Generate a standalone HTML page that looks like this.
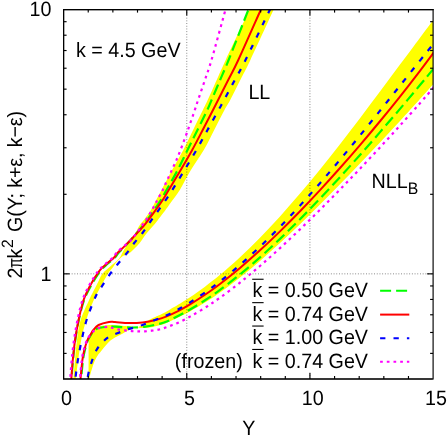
<!DOCTYPE html>
<html><head><meta charset="utf-8"><title>plot</title>
<style>
html,body{margin:0;padding:0;background:#fff;}
body{width:447px;height:435px;overflow:hidden;}
svg{display:block;will-change:transform;}
text{font-family:"Liberation Sans",sans-serif;font-size:19.7px;fill:#000;text-rendering:geometricPrecision;}
</style></head><body>
<svg width="447" height="435" viewBox="0 0 447 435">
<rect x="0" y="0" width="447" height="435" fill="#fff"/>
<defs><clipPath id="cp"><rect x="63.6" y="9.6" width="369.5" height="369.4"/></clipPath></defs>
<g clip-path="url(#cp)" fill="none" stroke-linecap="butt" stroke-linejoin="round">
<path d="M73.00,390.00 C73.08,388.00 73.17,383.00 73.50,378.00 C73.83,373.00 74.42,366.33 75.00,360.00 C75.58,353.67 76.07,346.67 77.00,340.00 C77.93,333.33 78.58,326.67 80.60,320.00 C82.62,313.33 87.03,304.67 89.10,300.00 C91.17,295.33 91.67,294.67 93.00,292.00 C94.33,289.33 95.55,287.02 97.10,284.00 C98.65,280.98 100.15,276.78 102.30,273.90 C104.45,271.02 107.98,268.52 110.00,266.70 C112.02,264.88 113.03,264.22 114.40,263.00 C115.77,261.78 117.18,260.48 118.20,259.40 C119.22,258.32 119.78,257.65 120.50,256.50 C121.22,255.35 121.28,254.70 122.50,252.50 C123.72,250.30 126.25,245.75 127.80,243.30 C129.35,240.85 130.52,239.52 131.80,237.80 C133.08,236.08 134.58,234.40 135.50,233.00 C136.42,231.60 136.50,230.87 137.30,229.40 C138.10,227.93 139.25,225.72 140.30,224.20 C141.35,222.68 141.83,222.67 143.60,220.30 C145.37,217.93 148.80,213.38 150.90,210.00 C153.00,206.62 154.43,203.33 156.20,200.00 C157.97,196.67 158.85,195.00 161.50,190.00 C164.15,185.00 168.47,176.67 172.10,170.00 C175.73,163.33 179.80,156.67 183.30,150.00 C186.80,143.33 189.83,136.67 193.10,130.00 C196.37,123.33 200.47,115.00 202.90,110.00 C205.33,105.00 205.40,105.00 207.70,100.00 C210.00,95.00 213.70,86.67 216.70,80.00 C219.70,73.33 220.22,71.75 225.70,60.00 C231.18,48.25 244.88,19.50 249.60,9.50 C254.32,-0.50 253.27,1.58 254.00,0.00 L278.00,0.00 C277.28,1.58 278.30,-0.50 273.70,9.50 C269.10,19.50 255.97,48.25 250.40,60.00 C244.83,71.75 243.67,73.33 240.30,80.00 C236.93,86.67 232.83,95.00 230.20,100.00 C227.57,105.00 227.17,105.00 224.50,110.00 C221.83,115.00 217.65,123.33 214.20,130.00 C210.75,136.67 207.83,143.08 203.80,150.00 C199.77,156.92 194.00,164.83 190.00,171.50 C186.00,178.17 183.05,184.75 179.80,190.00 C176.55,195.25 172.88,199.67 170.50,203.00 C168.12,206.33 168.08,206.55 165.50,210.00 C162.92,213.45 158.10,219.87 155.00,223.70 C151.90,227.53 149.48,229.73 146.90,233.00 C144.32,236.27 141.65,240.63 139.50,243.30 C137.35,245.97 135.65,247.38 134.00,249.00 C132.35,250.62 130.93,252.00 129.60,253.00 C128.27,254.00 127.18,254.45 126.00,255.00 C124.82,255.55 123.67,255.57 122.50,256.30 C121.33,257.03 120.10,258.28 119.00,259.40 C117.90,260.52 116.85,261.78 115.90,263.00 C114.95,264.22 114.65,264.88 113.30,266.70 C111.95,268.52 109.65,271.02 107.80,273.90 C105.95,276.78 104.53,279.65 102.20,284.00 C99.87,288.35 96.47,294.00 93.80,300.00 C91.13,306.00 88.30,313.33 86.20,320.00 C84.10,326.67 82.53,333.33 81.20,340.00 C79.87,346.67 79.07,353.67 78.20,360.00 C77.33,366.33 76.45,373.00 76.00,378.00 C75.55,383.00 75.58,388.00 75.50,390.00 Z" fill="#ffff00" stroke="none"/>
<path d="M88.40,390.00 C88.42,388.00 88.47,383.00 88.50,378.00 C88.53,373.00 88.57,365.67 88.60,360.00 C88.63,354.33 88.42,348.00 88.70,344.00 C88.98,340.00 89.52,338.25 90.30,336.00 C91.08,333.75 92.02,332.08 93.40,330.50 C94.78,328.92 96.02,327.42 98.60,326.50 C101.18,325.58 106.17,325.22 108.90,325.00 C111.63,324.78 111.68,324.98 115.00,325.20 C118.32,325.42 126.05,325.93 128.80,326.30 C131.55,326.67 129.97,327.23 131.50,327.40 C133.03,327.57 135.00,328.58 138.00,327.30 C141.00,326.02 145.28,322.05 149.50,319.70 C153.72,317.35 159.88,314.92 163.30,313.20 C166.72,311.48 167.55,310.81 170.00,309.40 C172.45,307.99 174.67,306.76 178.00,304.74 C181.33,302.72 185.50,300.26 190.00,297.25 C194.50,294.24 200.00,290.41 205.00,286.68 C210.00,282.95 214.17,279.77 220.00,274.86 C225.83,269.95 233.33,263.44 240.00,257.24 C246.67,251.05 253.33,244.50 260.00,237.69 C266.67,230.88 273.33,223.74 280.00,216.39 C286.67,209.04 293.33,201.40 300.00,193.57 C306.67,185.74 313.33,177.66 320.00,169.43 C326.67,161.20 333.33,152.75 340.00,144.21 C346.67,135.67 353.33,126.94 360.00,118.16 C366.67,109.38 373.33,100.45 380.00,91.53 C386.67,82.61 393.33,73.59 400.00,64.61 C406.67,55.63 414.50,45.05 420.00,37.66 C425.50,30.27 429.50,24.94 433.00,20.28 C436.50,15.62 439.67,11.45 441.00,9.68 L441.00,75.50 C439.67,77.00 436.50,80.61 433.00,84.53 C429.50,88.45 425.50,92.95 420.00,99.02 C414.50,105.09 406.67,113.69 400.00,120.93 C393.33,128.17 386.67,135.34 380.00,142.45 C373.33,149.56 366.67,156.61 360.00,163.59 C353.33,170.57 346.67,177.49 340.00,184.32 C333.33,191.15 326.67,197.91 320.00,204.55 C313.33,211.19 306.67,217.77 300.00,224.18 C293.33,230.59 286.67,236.92 280.00,243.04 C273.33,249.16 266.67,255.15 260.00,260.90 C253.33,266.64 246.67,272.23 240.00,277.51 C233.33,282.79 225.83,288.38 220.00,292.56 C214.17,296.74 210.00,299.47 205.00,302.61 C200.00,305.75 194.50,308.96 190.00,311.43 C185.50,313.90 181.33,315.81 178.00,317.46 C174.67,319.10 172.45,320.16 170.00,321.30 C167.55,322.44 166.72,323.25 163.30,324.30 C159.88,325.35 153.22,326.97 149.50,327.60 C145.78,328.23 142.92,328.12 141.00,328.10 C139.08,328.08 139.58,327.58 138.00,327.50 C136.42,327.42 133.03,327.22 131.50,327.60 C129.97,327.98 130.40,328.72 128.80,329.80 C127.20,330.88 124.20,332.80 121.90,334.10 C119.60,335.40 117.17,336.28 115.00,337.60 C112.83,338.92 111.07,339.93 108.90,342.00 C106.73,344.07 104.30,347.00 102.00,350.00 C99.70,353.00 97.18,355.33 95.10,360.00 C93.02,364.67 90.60,373.00 89.50,378.00 C88.40,383.00 88.67,388.00 88.50,390.00 Z" fill="#ffff00" stroke="none"/>
</g>
<g stroke="#000" stroke-opacity="0.6" stroke-width="0.85" stroke-dasharray="0.9,1.8" fill="none">
<line x1="186.77" y1="9.6" x2="186.77" y2="379.0"/>
<line x1="309.93" y1="9.6" x2="309.93" y2="277.5"/>
<line x1="309.93" y1="372.5" x2="309.93" y2="379.0"/>
<line x1="63.6" y1="273.85" x2="433.1" y2="273.85"/>
</g>
<g clip-path="url(#cp)" fill="none" stroke-linecap="butt" stroke-linejoin="round">
<path d="M70.80,390.00 C70.93,388.00 71.23,383.00 71.60,378.00 C71.97,373.00 72.38,366.33 73.00,360.00 C73.62,353.67 74.33,346.67 75.30,340.00 C76.27,333.33 77.33,326.67 78.80,320.00 C80.27,313.33 81.98,305.87 84.10,300.00 C86.22,294.13 88.80,289.67 91.50,284.80 C94.20,279.93 97.62,274.30 100.30,270.80 C102.98,267.30 105.15,266.02 107.60,263.80 C110.05,261.58 113.20,259.32 115.00,257.50 C116.80,255.68 116.92,254.58 118.40,252.90 C119.88,251.22 121.85,249.55 123.90,247.40 C125.95,245.25 128.42,242.58 130.70,240.00 C132.98,237.42 135.32,234.60 137.60,231.90 C139.88,229.20 141.83,227.17 144.40,223.80 C146.97,220.43 150.27,215.67 153.00,211.70 C155.73,207.73 158.55,203.62 160.80,200.00 C163.05,196.38 163.68,195.00 166.50,190.00 C169.32,185.00 174.20,176.67 177.70,170.00 C181.20,163.33 184.20,156.67 187.50,150.00 C190.80,143.33 194.20,136.67 197.50,130.00 C200.80,123.33 204.95,115.00 207.30,110.00 C209.65,105.00 209.47,105.00 211.60,100.00 C213.73,95.00 217.27,86.67 220.10,80.00 C222.93,73.33 223.87,71.75 228.60,60.00 C233.33,48.25 244.57,19.50 248.50,9.50 C252.43,-0.50 251.58,1.58 252.20,0.00" stroke="#00ff00" stroke-width="2.2" stroke-dasharray="11,5" stroke-dashoffset="0"/>
<path d="M80.20,390.00 C80.37,388.00 80.73,383.00 81.20,378.00 C81.67,373.00 82.38,364.67 83.00,360.00 C83.62,355.33 84.07,353.33 84.90,350.00 C85.73,346.67 87.05,342.42 88.00,340.00 C88.95,337.58 89.77,336.83 90.60,335.50 C91.43,334.17 92.10,333.03 93.00,332.00 C93.90,330.97 94.83,330.00 96.00,329.30 C97.17,328.60 98.00,328.25 100.00,327.80 C102.00,327.35 105.50,326.80 108.00,326.60 C110.50,326.40 112.45,326.50 115.00,326.60 C117.55,326.70 120.32,327.05 123.30,327.20 C126.28,327.35 129.23,327.60 132.90,327.50 C136.57,327.40 140.70,327.25 145.30,326.60 C149.90,325.95 156.72,324.53 160.50,323.60 C164.28,322.67 165.08,322.27 168.00,321.00 C170.92,319.73 174.33,317.91 178.00,316.00 C181.67,314.09 185.50,312.14 190.00,309.52 C194.50,306.90 200.00,303.55 205.00,300.28 C210.00,297.00 214.17,294.19 220.00,289.87 C225.83,285.56 233.33,279.82 240.00,274.39 C246.67,268.96 253.33,263.23 260.00,257.30 C266.67,251.38 273.33,245.19 280.00,238.84 C286.67,232.49 293.33,225.91 300.00,219.20 C306.67,212.49 313.33,205.58 320.00,198.57 C326.67,191.56 333.33,184.38 340.00,177.11 C346.67,169.84 353.33,162.42 360.00,154.93 C366.67,147.44 373.33,139.83 380.00,132.15 C386.67,124.47 393.33,116.69 400.00,108.85 C406.67,101.00 414.50,91.66 420.00,85.08 C425.50,78.50 429.50,73.63 433.00,69.39 C436.50,65.15 439.67,61.27 441.00,59.65" stroke="#00ff00" stroke-width="2.2" stroke-dasharray="11,5" stroke-dashoffset="0"/>
<path d="M70.60,390.00 C70.73,388.00 71.03,383.00 71.40,378.00 C71.77,373.00 72.18,366.33 72.80,360.00 C73.42,353.67 74.13,346.67 75.10,340.00 C76.07,333.33 77.18,326.67 78.60,320.00 C80.02,313.33 81.60,305.87 83.60,300.00 C85.60,294.13 87.97,289.67 90.60,284.80 C93.23,279.93 96.72,274.30 99.40,270.80 C102.08,267.30 104.25,266.02 106.70,263.80 C109.15,261.58 112.30,259.32 114.10,257.50 C115.90,255.68 115.95,254.58 117.50,252.90 C119.05,251.22 121.20,249.55 123.40,247.40 C125.60,245.25 128.25,242.58 130.70,240.00 C133.15,237.42 135.65,234.60 138.10,231.90 C140.55,229.20 142.67,227.17 145.40,223.80 C148.13,220.43 151.62,215.67 154.50,211.70 C157.38,207.73 160.33,203.62 162.70,200.00 C165.07,196.38 165.70,195.00 168.70,190.00 C171.70,185.00 176.78,176.67 180.70,170.00 C184.62,163.33 188.53,156.67 192.20,150.00 C195.87,143.33 199.23,136.67 202.70,130.00 C206.17,123.33 210.43,115.00 213.00,110.00 C215.57,105.00 215.57,105.00 218.10,100.00 C220.63,95.00 224.83,86.67 228.20,80.00 C231.57,73.33 232.85,71.75 238.30,60.00 C243.75,48.25 256.42,19.50 260.90,9.50 C265.38,-0.50 264.48,1.58 265.20,0.00" stroke="#ff0000" stroke-width="2"/>
<path d="M79.60,390.00 C79.77,388.00 80.13,383.00 80.60,378.00 C81.07,373.00 81.78,364.67 82.40,360.00 C83.02,355.33 83.45,353.33 84.30,350.00 C85.15,346.67 86.50,342.50 87.50,340.00 C88.50,337.50 89.32,336.67 90.30,335.00 C91.28,333.33 92.02,331.67 93.40,330.00 C94.78,328.33 96.02,326.35 98.60,325.00 C101.18,323.65 106.17,322.40 108.90,321.90 C111.63,321.40 111.68,321.80 115.00,322.00 C118.32,322.20 124.20,323.03 128.80,323.10 C133.40,323.17 138.00,322.97 142.60,322.40 C147.20,321.83 152.50,320.67 156.40,319.70 C160.30,318.73 162.40,318.04 166.00,316.60 C169.60,315.16 174.00,313.11 178.00,311.06 C182.00,309.01 185.50,307.05 190.00,304.33 C194.50,301.61 200.00,298.13 205.00,294.73 C210.00,291.33 214.17,288.40 220.00,283.93 C225.83,279.46 233.33,273.53 240.00,267.93 C246.67,262.33 253.33,256.42 260.00,250.33 C266.67,244.24 273.33,237.88 280.00,231.37 C286.67,224.86 293.33,218.13 300.00,211.25 C306.67,204.37 313.33,197.31 320.00,190.11 C326.67,182.91 333.33,175.53 340.00,168.03 C346.67,160.53 353.33,152.88 360.00,145.08 C366.67,137.29 373.33,129.35 380.00,121.26 C386.67,113.17 393.33,104.94 400.00,96.53 C406.67,88.12 414.50,77.97 420.00,70.79 C425.50,63.61 429.50,58.18 433.00,53.47 C436.50,48.76 439.67,44.37 441.00,42.55" stroke="#ff0000" stroke-width="2"/>
<path d="M74.90,390.00 C75.00,388.00 75.00,383.00 75.50,378.00 C76.00,373.00 76.87,366.33 77.90,360.00 C78.93,353.67 80.25,346.67 81.70,340.00 C83.15,333.33 84.33,327.13 86.60,320.00 C88.87,312.87 92.82,302.72 95.30,297.20 C97.78,291.68 99.20,290.53 101.50,286.90 C103.80,283.27 106.45,279.13 109.10,275.40 C111.75,271.67 114.53,268.10 117.40,264.50 C120.27,260.90 123.53,257.33 126.30,253.80 C129.07,250.27 131.30,246.77 134.00,243.30 C136.70,239.83 139.82,236.55 142.50,233.00 C145.18,229.45 147.53,225.65 150.10,222.00 C152.67,218.35 155.25,214.83 157.90,211.10 C160.55,207.37 163.60,203.12 166.00,199.60 C168.40,196.08 169.22,194.93 172.30,190.00 C175.38,185.07 180.48,176.67 184.50,170.00 C188.52,163.33 192.57,156.67 196.40,150.00 C200.23,143.33 203.82,136.67 207.50,130.00 C211.18,123.33 215.73,115.00 218.50,110.00 C221.27,105.00 221.38,105.00 224.10,100.00 C226.82,95.00 231.23,86.67 234.80,80.00 C238.37,73.33 239.63,71.75 245.50,60.00 C251.37,48.25 265.15,19.50 270.00,9.50 C274.85,-0.50 273.83,1.58 274.60,0.00" stroke="#0000ff" stroke-width="2.2" stroke-dasharray="5.3,8.1" stroke-dashoffset="0"/>
<path d="M85.50,390.00 C85.83,388.00 86.65,382.17 87.50,378.00 C88.35,373.83 89.10,369.67 90.60,365.00 C92.10,360.33 94.13,354.17 96.50,350.00 C98.87,345.83 102.27,342.47 104.80,340.00 C107.33,337.53 110.00,336.18 111.70,335.20 C113.40,334.22 112.27,335.08 115.00,334.10 C117.73,333.12 123.62,330.78 128.10,329.30 C132.58,327.82 137.53,326.70 141.90,325.20 C146.27,323.70 150.17,321.95 154.30,320.30 C158.43,318.65 162.75,317.11 166.70,315.30 C170.65,313.49 174.12,311.58 178.00,309.42 C181.88,307.26 185.50,305.17 190.00,302.34 C194.50,299.50 200.00,295.91 205.00,292.41 C210.00,288.91 214.17,285.93 220.00,281.34 C225.83,276.75 233.33,270.67 240.00,264.89 C246.67,259.11 253.33,253.01 260.00,246.67 C266.67,240.33 273.33,233.69 280.00,226.85 C286.67,220.01 293.33,212.90 300.00,205.62 C306.67,198.34 313.33,190.82 320.00,183.17 C326.67,175.52 333.33,167.66 340.00,159.71 C346.67,151.76 353.33,143.65 360.00,135.48 C366.67,127.31 373.33,119.00 380.00,110.70 C386.67,102.40 393.33,94.01 400.00,85.65 C406.67,77.30 414.50,67.45 420.00,60.57 C425.50,53.70 429.50,48.74 433.00,44.40 C436.50,40.06 439.67,36.18 441.00,34.54" stroke="#0000ff" stroke-width="2.2" stroke-dasharray="5.3,8.1" stroke-dashoffset="0"/>
<path d="M69.50,390.00 C69.63,388.00 69.93,383.00 70.30,378.00 C70.67,373.00 71.08,366.33 71.70,360.00 C72.32,353.67 73.03,346.67 74.00,340.00 C74.97,333.33 76.08,326.67 77.50,320.00 C78.92,313.33 80.50,305.87 82.50,300.00 C84.50,294.13 86.87,289.67 89.50,284.80 C92.13,279.93 95.62,274.30 98.30,270.80 C100.98,267.30 103.15,266.02 105.60,263.80 C108.05,261.58 111.20,259.32 113.00,257.50 C114.80,255.68 114.85,254.58 116.40,252.90 C117.95,251.22 120.07,249.28 122.30,247.40 C124.53,245.52 127.88,243.40 129.80,241.60 C131.72,239.80 132.47,238.27 133.80,236.60 C135.13,234.93 136.47,233.40 137.80,231.60 C139.13,229.80 140.45,227.72 141.80,225.80 C143.15,223.88 144.65,221.98 145.90,220.10 C147.15,218.22 148.15,216.42 149.30,214.50 C150.45,212.58 151.70,210.55 152.80,208.60 C153.90,206.65 154.85,204.78 155.90,202.80 C156.95,200.82 158.02,198.70 159.10,196.70 C160.18,194.70 161.40,192.80 162.40,190.80 C163.40,188.80 164.18,186.73 165.10,184.70 C166.02,182.67 166.95,180.65 167.90,178.60 C168.85,176.55 169.85,174.45 170.80,172.40 C171.75,170.35 172.70,168.27 173.60,166.30 C174.50,164.33 175.05,163.32 176.20,160.60 C177.35,157.88 178.55,155.10 180.50,150.00 C182.45,144.90 185.52,136.67 187.90,130.00 C190.28,123.33 193.10,115.00 194.80,110.00 C196.50,105.00 196.42,105.00 198.10,100.00 C199.78,95.00 202.67,86.67 204.90,80.00 C207.13,73.33 208.07,71.75 211.50,60.00 C214.93,48.25 222.75,19.50 225.50,9.50 C228.25,-0.50 227.58,1.58 228.00,0.00" stroke="#ff00ff" stroke-width="2.2" stroke-dasharray="2.7,4" stroke-dashoffset="0"/>
<path d="M79.00,390.00 C79.17,388.00 79.53,383.00 80.00,378.00 C80.47,373.00 81.18,364.67 81.80,360.00 C82.42,355.33 82.83,353.33 83.70,350.00 C84.57,346.67 85.95,342.45 87.00,340.00 C88.05,337.55 89.00,336.67 90.00,335.30 C91.00,333.93 92.00,332.80 93.00,331.80 C94.00,330.80 94.83,329.97 96.00,329.30 C97.17,328.63 98.00,328.22 100.00,327.80 C102.00,327.38 106.00,326.80 108.00,326.80 C110.00,326.80 110.37,327.38 112.00,327.80 C113.63,328.22 115.68,328.88 117.80,329.30 C119.92,329.72 122.40,330.00 124.70,330.30 C127.00,330.60 129.42,330.92 131.60,331.10 C133.78,331.28 135.62,331.35 137.80,331.40 C139.98,331.45 142.40,331.52 144.70,331.40 C147.00,331.28 149.32,330.98 151.60,330.70 C153.88,330.42 156.22,330.17 158.40,329.70 C160.58,329.23 162.62,328.58 164.70,327.90 C166.78,327.22 168.68,326.46 170.90,325.60 C173.12,324.75 174.82,324.26 178.00,322.77 C181.18,321.28 185.50,319.16 190.00,316.66 C194.50,314.16 200.00,310.94 205.00,307.77 C210.00,304.60 214.17,301.87 220.00,297.67 C225.83,293.47 233.33,287.87 240.00,282.59 C246.67,277.31 253.33,271.73 260.00,265.99 C266.67,260.25 273.33,254.26 280.00,248.15 C286.67,242.04 293.33,235.74 300.00,229.34 C306.67,222.94 313.33,216.38 320.00,209.74 C326.67,203.10 333.33,196.33 340.00,189.49 C346.67,182.65 353.33,175.71 360.00,168.69 C366.67,161.67 373.33,154.57 380.00,147.38 C386.67,140.19 393.33,132.93 400.00,125.56 C406.67,118.19 414.50,109.39 420.00,103.17 C425.50,96.95 429.50,92.29 433.00,88.25 C436.50,84.21 439.67,80.47 441.00,78.92" stroke="#ff00ff" stroke-width="2.2" stroke-dasharray="2.7,4" stroke-dashoffset="0"/>
</g>
<g fill="none">
<line x1="380.1" y1="290.8" x2="409.3" y2="290.8" stroke="#00ff00" stroke-width="2" stroke-dasharray="11,5"/>
<line x1="380.1" y1="314.6" x2="409.3" y2="314.6" stroke="#ff0000" stroke-width="2"/>
<line x1="380.1" y1="338.2" x2="409.3" y2="338.2" stroke="#0000ff" stroke-width="2" stroke-dasharray="5.3,8.1"/>
<line x1="380.1" y1="361.8" x2="409.3" y2="361.8" stroke="#ff00ff" stroke-width="2" stroke-dasharray="2.7,4"/>
</g>
<g stroke="#000" stroke-width="1.15" fill="none">
<rect x="63.6" y="9.6" width="369.5" height="369.4"/>
<path d="M63.6,379.0 L63.6,9.6 L433.1,9.6 M63.6,379.0 L432.1,379.0" stroke-linecap="square"/>
<line x1="88.23" y1="379.0" x2="88.23" y2="376.0"/>
<line x1="88.23" y1="9.6" x2="88.23" y2="12.6"/>
<line x1="112.87" y1="379.0" x2="112.87" y2="376.0"/>
<line x1="112.87" y1="9.6" x2="112.87" y2="12.6"/>
<line x1="137.50" y1="379.0" x2="137.50" y2="376.0"/>
<line x1="137.50" y1="9.6" x2="137.50" y2="12.6"/>
<line x1="162.13" y1="379.0" x2="162.13" y2="376.0"/>
<line x1="162.13" y1="9.6" x2="162.13" y2="12.6"/>
<line x1="186.77" y1="379.0" x2="186.77" y2="373.0"/>
<line x1="186.77" y1="9.6" x2="186.77" y2="15.6"/>
<line x1="211.40" y1="379.0" x2="211.40" y2="376.0"/>
<line x1="211.40" y1="9.6" x2="211.40" y2="12.6"/>
<line x1="236.03" y1="379.0" x2="236.03" y2="376.0"/>
<line x1="236.03" y1="9.6" x2="236.03" y2="12.6"/>
<line x1="260.67" y1="379.0" x2="260.67" y2="376.0"/>
<line x1="260.67" y1="9.6" x2="260.67" y2="12.6"/>
<line x1="285.30" y1="379.0" x2="285.30" y2="376.0"/>
<line x1="285.30" y1="9.6" x2="285.30" y2="12.6"/>
<line x1="309.93" y1="379.0" x2="309.93" y2="373.0"/>
<line x1="309.93" y1="9.6" x2="309.93" y2="15.6"/>
<line x1="334.57" y1="379.0" x2="334.57" y2="376.0"/>
<line x1="334.57" y1="9.6" x2="334.57" y2="12.6"/>
<line x1="359.20" y1="379.0" x2="359.20" y2="376.0"/>
<line x1="359.20" y1="9.6" x2="359.20" y2="12.6"/>
<line x1="383.83" y1="379.0" x2="383.83" y2="376.0"/>
<line x1="383.83" y1="9.6" x2="383.83" y2="12.6"/>
<line x1="408.47" y1="379.0" x2="408.47" y2="376.0"/>
<line x1="408.47" y1="9.6" x2="408.47" y2="12.6"/>
<line x1="63.6" y1="353.39" x2="66.6" y2="353.39"/>
<line x1="433.1" y1="353.39" x2="430.1" y2="353.39"/>
<line x1="63.6" y1="332.47" x2="66.6" y2="332.47"/>
<line x1="433.1" y1="332.47" x2="430.1" y2="332.47"/>
<line x1="63.6" y1="314.78" x2="66.6" y2="314.78"/>
<line x1="433.1" y1="314.78" x2="430.1" y2="314.78"/>
<line x1="63.6" y1="299.45" x2="66.6" y2="299.45"/>
<line x1="433.1" y1="299.45" x2="430.1" y2="299.45"/>
<line x1="63.6" y1="285.94" x2="66.6" y2="285.94"/>
<line x1="433.1" y1="285.94" x2="430.1" y2="285.94"/>
<line x1="63.6" y1="273.85" x2="69.6" y2="273.85"/>
<line x1="433.1" y1="273.85" x2="427.1" y2="273.85"/>
<line x1="63.6" y1="194.30" x2="66.6" y2="194.30"/>
<line x1="433.1" y1="194.30" x2="430.1" y2="194.30"/>
<line x1="63.6" y1="147.77" x2="66.6" y2="147.77"/>
<line x1="433.1" y1="147.77" x2="430.1" y2="147.77"/>
<line x1="63.6" y1="114.75" x2="66.6" y2="114.75"/>
<line x1="433.1" y1="114.75" x2="430.1" y2="114.75"/>
<line x1="63.6" y1="89.15" x2="66.6" y2="89.15"/>
<line x1="433.1" y1="89.15" x2="430.1" y2="89.15"/>
<line x1="63.6" y1="68.22" x2="66.6" y2="68.22"/>
<line x1="433.1" y1="68.22" x2="430.1" y2="68.22"/>
<line x1="63.6" y1="50.53" x2="66.6" y2="50.53"/>
<line x1="433.1" y1="50.53" x2="430.1" y2="50.53"/>
<line x1="63.6" y1="35.21" x2="66.6" y2="35.21"/>
<line x1="433.1" y1="35.21" x2="430.1" y2="35.21"/>
<line x1="63.6" y1="21.69" x2="66.6" y2="21.69"/>
<line x1="433.1" y1="21.69" x2="430.1" y2="21.69"/>
</g>
<text transform="translate(51.50,16.40) scale(1,1.05)" text-anchor="end">10</text>
<text transform="translate(51.50,280.70) scale(1,1.05)" text-anchor="end">1</text>
<text transform="translate(66.40,404.80) scale(1,1.05)" text-anchor="middle">0</text>
<text transform="translate(189.57,404.80) scale(1,1.05)" text-anchor="middle">5</text>
<text transform="translate(312.73,404.80) scale(1,1.05)" text-anchor="middle">10</text>
<text transform="translate(435.90,404.80) scale(1,1.05)" text-anchor="middle">15</text>
<text transform="translate(248.70,435.40) scale(1,1.05)" text-anchor="middle">Y</text>
<text transform="translate(76.00,56.80) scale(1,1.05)">k = 4.5 GeV</text>
<text transform="translate(248.40,98.90) scale(1,1.05)">LL</text>
<text transform="translate(371.60,187.90) scale(1,1.05)">NLL<tspan font-size="15.8px" dy="5.9">B</tspan></text>
<text transform="translate(252.50,297.40) scale(1,1.05)">k = 0.50 GeV</text>
<rect x="252.2" y="278.7" width="11.4" height="1.1" fill="#000"/>
<text transform="translate(252.50,320.80) scale(1,1.05)">k = 0.74 GeV</text>
<rect x="252.2" y="302.1" width="11.4" height="1.1" fill="#000"/>
<text transform="translate(252.50,344.20) scale(1,1.05)">k = 1.00 GeV</text>
<rect x="252.2" y="325.5" width="11.4" height="1.1" fill="#000"/>
<text transform="translate(252.50,367.60) scale(1,1.05)">k = 0.74 GeV</text>
<rect x="252.2" y="348.9" width="11.4" height="1.1" fill="#000"/>
<text transform="translate(242.70,367.60) scale(1,1.05)" text-anchor="end">(frozen)</text>
<g transform="translate(22.4,278.6) rotate(-90) scale(1,1.05)">
<text x="0" y="0">2</text>
<text transform="translate(10.7,0) scale(0.74,1)">π</text>
<text x="20" y="0">k</text>
<text x="30.7" y="-8.8" style="font-size:15.6px">2</text>
<text x="46.7" y="0" textLength="121" lengthAdjust="spacing">G(Y; k+ε, k−ε)</text>
</g>
</svg>
</body></html>
